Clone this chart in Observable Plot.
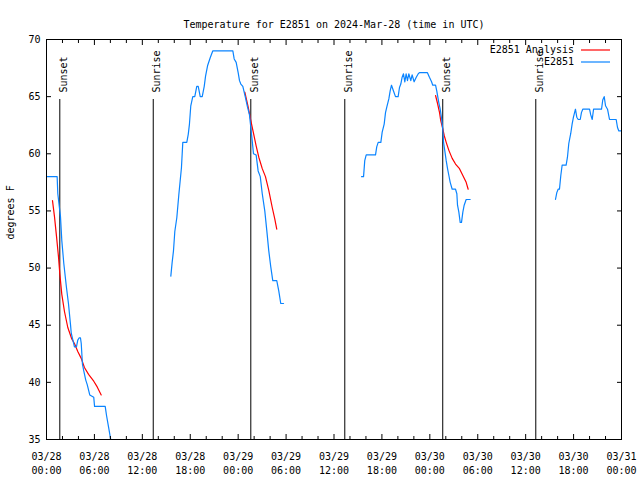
<!DOCTYPE html>
<html>
<head>
<meta charset="utf-8">
<script src="https://cdn.jsdelivr.net/npm/d3@7"></script>
<script src="https://cdn.jsdelivr.net/npm/@observablehq/plot@0.6"></script>
<style>
  html, body { margin: 0; padding: 0; background: white; }
</style>
</head>
<body>
<div id="chart"></div>
<script>
const titleText = "Temperature for E2851 on 2024-Mar-28 (time in UTC)";
const yLabel = "degrees F";
const xDomain = ["2024-03-28 00:00", "2024-03-31 00:00"];
const yDomain = [35, 70];
const yTicks = [35, 40, 45, 50, 55, 60, 65, 70];

// E2851 observations (blue), one array per segment
const obs1 = [
  ["03-28 00:02",58.0],["03-28 01:20",58.0],["03-28 01:25",56.5],["03-28 01:45",54.5],
  ["03-28 01:55",52.4],["03-28 02:10",50.4],["03-28 02:30",48.3],["03-28 02:45",46.9],
  ["03-28 03:00",45.1],["03-28 03:06",44.3],["03-28 03:30",43.1],["03-28 03:45",43.1],
  ["03-28 03:55",43.7],["03-28 04:06",43.9],["03-28 04:15",43.9],["03-28 04:21",43.4],
  ["03-28 04:30",41.6],["03-28 04:40",41.0],["03-28 04:55",40.2],["03-28 05:06",39.8],
  ["03-28 05:25",38.9],["03-28 05:55",38.7],["03-28 06:01",37.9],["03-28 07:21",37.9],
  ["03-28 07:31",37.1],["03-28 07:46",36.1],["03-28 08:01",35.1],["03-28 08:16",34.2]
];
const obs2 = [
  ["03-28 15:34",49.3],["03-28 15:44",50.5],["03-28 15:54",51.5],["03-28 16:04",53.2],
  ["03-28 16:19",54.4],["03-28 16:34",56.4],["03-28 16:44",57.6],["03-28 16:54",58.8],
  ["03-28 17:04",61.0],["03-28 17:34",61.0],["03-28 17:45",61.7],["03-28 17:54",62.6],
  ["03-28 18:04",64.2],["03-28 18:19",65.0],["03-28 18:34",65.0],["03-28 18:49",65.9],
  ["03-28 19:00",65.9],["03-28 19:15",65.0],["03-28 19:30",65.0],["03-28 19:45",65.9],
  ["03-28 19:55",66.8],["03-28 20:10",67.7],["03-28 20:30",68.4],["03-28 20:49",69.0],
  ["03-28 23:20",69.0],["03-28 23:30",68.3],["03-28 23:45",68.0],["03-29 00:00",67.1],
  ["03-29 00:10",66.4],["03-29 00:20",66.1],["03-29 00:35",65.9],["03-29 00:53",65.0],
  ["03-29 01:10",64.1],["03-29 01:25",63.4],["03-29 01:35",62.3],["03-29 01:45",61.2],
  ["03-29 01:55",60.0],["03-29 02:15",59.9],["03-29 02:30",58.5],["03-29 02:46",58.0],
  ["03-29 03:01",56.5],["03-29 03:20",55.0],["03-29 03:35",53.3],["03-29 03:50",51.5],
  ["03-29 04:05",50.1],["03-29 04:20",48.9],["03-29 04:50",48.9],["03-29 05:05",48.0],
  ["03-29 05:20",46.9],["03-29 05:41",46.9]
];
const obs3 = [
  ["03-29 15:27",58.0],["03-29 15:42",58.0],["03-29 15:51",59.4],["03-29 16:02",59.9],
  ["03-29 17:12",59.9],["03-29 17:21",60.6],["03-29 17:32",61.0],["03-29 17:52",61.0],
  ["03-29 18:02",61.9],["03-29 18:17",62.6],["03-29 18:27",63.6],["03-29 18:37",64.1],
  ["03-29 18:52",64.8],["03-29 19:02",65.5],["03-29 19:12",66.0],["03-29 19:27",65.5],
  ["03-29 19:42",65.0],["03-29 20:02",65.0],["03-29 20:12",65.8],["03-29 20:22",66.1],
  ["03-29 20:32",66.7],["03-29 20:42",67.0],["03-29 20:52",66.3],["03-29 21:02",67.0],
  ["03-29 21:12",66.4],["03-29 21:22",67.0],["03-29 21:37",66.4],["03-29 21:47",66.9],
  ["03-29 22:02",66.3],["03-29 22:18",66.7],["03-29 22:33",67.0],["03-29 22:42",67.1],
  ["03-29 23:42",67.1],["03-29 23:57",66.7],["03-30 00:13",66.3],["03-30 00:22",66.0],
  ["03-30 00:43",66.0],["03-30 00:52",65.5],["03-30 01:07",64.5],["03-30 01:18",63.9],
  ["03-30 01:28",63.1],["03-30 01:37",62.2],["03-30 01:43",61.0],["03-30 01:52",60.3],
  ["03-30 02:03",59.4],["03-30 02:13",58.7],["03-30 02:23",58.1],["03-30 02:33",57.5],
  ["03-30 02:48",56.9],["03-30 03:13",56.9],["03-30 03:23",56.5],["03-30 03:28",55.5],
  ["03-30 03:38",54.9],["03-30 03:48",54.0],["03-30 03:58",54.0],["03-30 04:08",54.9],
  ["03-30 04:18",55.5],["03-30 04:33",56.0],["03-30 05:03",56.0]
];
const obs4 = [
  ["03-30 15:44",56.0],["03-30 15:54",56.6],["03-30 16:04",56.9],["03-30 16:14",56.9],
  ["03-30 16:24",58.1],["03-30 16:34",59.0],["03-30 17:04",59.0],["03-30 17:14",59.7],
  ["03-30 17:24",60.9],["03-30 17:39",61.8],["03-30 17:49",62.6],["03-30 17:59",63.2],
  ["03-30 18:14",63.9],["03-30 18:24",63.2],["03-30 18:35",63.0],["03-30 18:50",63.0],
  ["03-30 18:59",63.6],["03-30 19:09",63.9],["03-30 20:00",63.9],["03-30 20:09",63.4],
  ["03-30 20:20",63.0],["03-30 20:30",63.9],["03-30 21:30",63.9],["03-30 21:39",64.7],
  ["03-30 21:50",65.0],["03-30 22:00",64.2],["03-30 22:15",63.9],["03-30 22:30",63.0],
  ["03-30 23:20",63.0],["03-30 23:30",62.3],["03-30 23:40",62.0],["03-30 23:55",62.0]
];

// E2851 Analysis (red), one array per night
const ana1 = [
  ["03-28 00:45",55.9],["03-28 01:00",54.5],["03-28 01:15",52.8],["03-28 01:30",51.0],
  ["03-28 01:40",49.5],["03-28 01:55",47.7],["03-28 02:15",46.2],["03-28 02:40",44.8],
  ["03-28 03:10",43.8],["03-28 03:30",43.4],["03-28 03:55",42.7],["03-28 04:21",42.1],
  ["03-28 04:45",41.3],["03-28 05:16",40.7],["03-28 05:55",40.1],["03-28 06:21",39.6],
  ["03-28 06:51",38.9]
];
const ana2 = [
  ["03-29 00:50",65.4],["03-29 01:15",64.1],["03-29 01:35",62.9],["03-29 01:55",61.8],
  ["03-29 02:15",60.7],["03-29 02:35",59.7],["03-29 03:01",58.7],["03-29 03:25",58.0],
  ["03-29 03:50",56.8],["03-29 04:16",55.3],["03-29 04:35",54.3],["03-29 04:50",53.4]
];
const ana3 = [
  ["03-30 00:43",65.1],["03-30 00:58",64.4],["03-30 01:13",63.6],["03-30 01:22",62.9],
  ["03-30 01:37",62.2],["03-30 01:48",61.6],["03-30 02:03",61.0],["03-30 02:23",60.3],
  ["03-30 02:48",59.6],["03-30 03:13",59.1],["03-30 03:43",58.7],["03-30 04:08",58.1],
  ["03-30 04:33",57.5],["03-30 04:48",56.9]
];

const sunTimes = ["03-28 01:40","03-28 13:22","03-29 01:35","03-29 13:21","03-30 01:37","03-30 13:16"];
const sunLabels = ["Sunset","Sunrise","Sunset","Sunrise","Sunset","Sunrise"];

const seriesNames = ["E2851 Analysis", "E2851"];
const seriesColors = ["#ff0000", "#0a84ff"];

// ---- build tables ----
const parseT = d3.utcParse("%Y-%m-%d %H:%M");
const T = s => parseT(s.length > 11 ? s : "2024-" + s);
const toRows = (arr, seg) => arr.map(([t, v]) => ({t: T(t), v, seg}));
const obsRows = [obs1, obs2, obs3, obs4].flatMap((a, i) => toRows(a, "o" + i));
const anaRows = [ana1, ana2, ana3].flatMap((a, i) => toRows(a, "a" + i));
const sunRows = sunTimes.map((t, i) => ({t: T(t), label: sunLabels[i]}));

const x0 = T(xDomain[0]), x1 = T(xDomain[1]);
const majorTicks = d3.utcHour.every(6).range(x0, new Date(+x1 + 1));
const minorTicks = d3.utcHour.every(2).range(x0, new Date(+x1 + 1)).filter(d => d.getUTCHours() % 6 !== 0);

const font = "DejaVu Sans Mono";

function legendMark(index, scales, values, dims) {
  const g = d3.create("svg:g").attr("font-family", font).attr("font-size", 10);
  const right = dims.width - dims.marginRight;
  seriesNames.forEach((name, i) => {
    const y = dims.marginTop + 11 + i * 12;
    g.append("text").attr("x", right - 47).attr("y", y).attr("dy", "0.32em")
      .attr("text-anchor", "end").attr("fill", "black").text(name);
    g.append("line").attr("x1", right - 40).attr("x2", right - 11)
      .attr("y1", y).attr("y2", y).attr("stroke", seriesColors[i]).attr("stroke-width", 1.2);
  });
  return g.node();
}

const chart = Plot.plot({
  width: 640,
  height: 480,
  marginLeft: 46,
  marginRight: 19,
  marginTop: 39,
  marginBottom: 41,
  style: {fontFamily: font, fontSize: "10px", background: "white", color: "black"},
  x: {type: "utc", domain: [x0, x1], axis: null},
  y: {domain: yDomain, axis: null},
  marks: [
    // sunrise / sunset markers
    Plot.ruleX(sunRows, {x: "t", stroke: "black", strokeWidth: 1, insetTop: 60}),
    Plot.text(sunRows, {x: "t", text: "label", rotate: -90, frameAnchor: "top", dy: 53,
      textAnchor: "start", fill: "black", fontSize: 10}),
    // data
    Plot.line(anaRows, {x: "t", y: "v", z: "seg", stroke: seriesColors[0], strokeWidth: 1.2, clip: true}),
    Plot.line(obsRows, {x: "t", y: "v", z: "seg", stroke: seriesColors[1], strokeWidth: 1.2, clip: true}),
    // frame
    Plot.frame({stroke: "black", strokeWidth: 1}),
    // inward ticks
    Plot.axisX(majorTicks, {anchor: "bottom", tickSize: 5, dy: -5, fill: "none", label: null}),
    Plot.axisX(minorTicks, {anchor: "bottom", tickSize: 3, dy: -3, fill: "none", label: null}),
    Plot.axisX(majorTicks, {anchor: "top", tickSize: 5, dy: 5, fill: "none", label: null}),
    Plot.axisX(minorTicks, {anchor: "top", tickSize: 3, dy: 3, fill: "none", label: null}),
    Plot.axisY(yTicks, {anchor: "left", tickSize: 5, dx: 5, fill: "none", label: null}),
    Plot.axisY(yTicks, {anchor: "right", tickSize: 5, dx: -5, fill: "none", label: null}),
    // tick labels
    Plot.axisX(majorTicks, {anchor: "bottom", tickSize: 0, tickPadding: 11, stroke: "none",
      tickFormat: d3.utcFormat("%m/%d\n%H:%M"), lineHeight: 1.4, label: null, fill: "black"}),
    Plot.axisY(yTicks, {anchor: "left", tickSize: 0, tickPadding: 6, stroke: "none", label: null, fill: "black"}),
    // y label
    Plot.text([yLabel], {frameAnchor: "left", dx: -36, rotate: -90, fill: "black"}),
    // title
    Plot.text([titleText], {frameAnchor: "top", dy: -19, fill: "black"}),
    // legend
    legendMark
  ]
});
document.getElementById("chart").append(chart);
</script>
</body>
</html>
